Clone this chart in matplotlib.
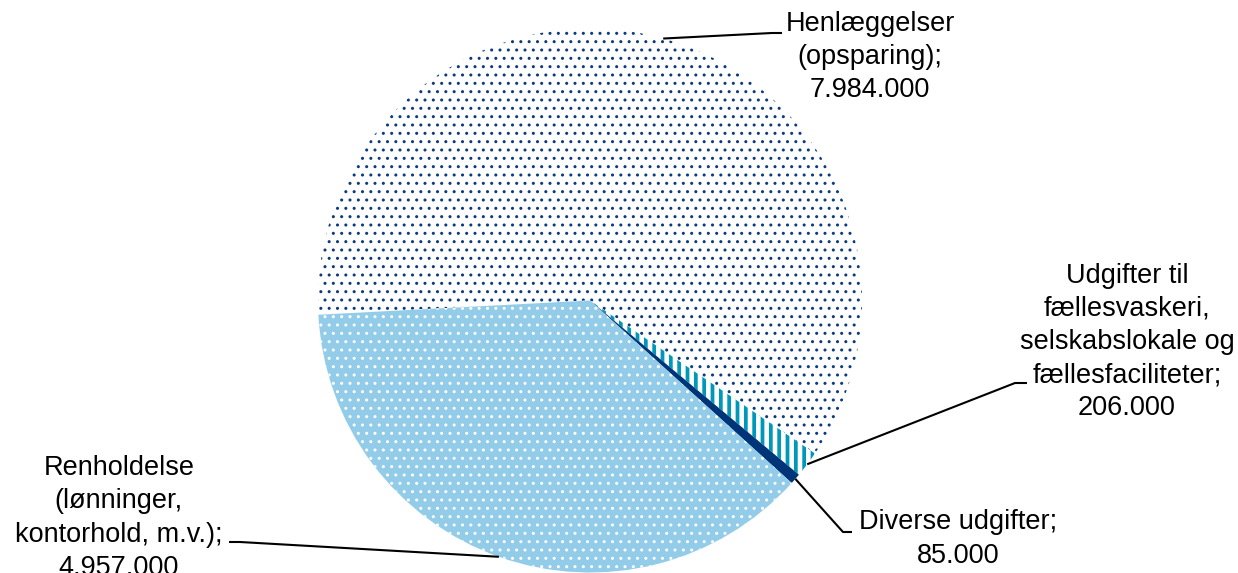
import matplotlib.pyplot as plt
import numpy as np

plt.rcParams['font.family'] = ['Liberation Sans', 'DejaVu Sans']

# Budgetposter og beløb (kr.)
navne = ['Henlæggelser\n(opsparing)',
         'Udgifter til\nfællesvaskeri,\nselskabslokale og\nfællesfaciliteter',
         'Diverse udgifter',
         'Renholdelse\n(lønninger,\nkontorhold, m.v.)']
beloeb = [7984000, 206000, 85000, 4957000]

# udseende for hvert stykke: (fyldfarve, mønsterfarve, mønster)
fyld = ['white', 'white', '#003478', '#93cce8']
moenster_farve = ['#0b3a7e', '#0098b9', '#003478', 'white']
moenster = ['..', '||', None, '..']

# placering af etiketter og knæk på hjælpelinjer (pixel-koordinater, y opad)
tekst_pos = [(870, 516), (1127, 231), (958, 34), (119, 55)]
knaek = [[(772, 540), (782, 540)],
         [(1015, 190), (1027, 190)],
         [(843, 41), (852, 41)],
         [(240, 31), (229, 31)]]

centrum = (590, 272.5)
radius = 272

fig = plt.figure(figsize=(12.38, 5.73), dpi=100)
ax = fig.add_axes([0, 0, 1, 1])

wedges, _ = ax.pie(beloeb, startangle=183, counterclock=False,
                   center=centrum, radius=radius,
                   wedgeprops=dict(linewidth=0))

for w, fc, hc, h in zip(wedges, fyld, moenster_farve, moenster):
    w.set_facecolor(fc)
    w.set_edgecolor(hc)
    w.set_linewidth(0)
    if h:
        w.set_hatch(h)
        if hasattr(w, 'set_hatch_linewidth'):
            w.set_hatch_linewidth(2.7 if h == '||' else 1.0)

def tal(v):
    return f'{v:,}'.replace(',', '.')

for w, navn, v, pos, kn in zip(wedges, navne, beloeb, tekst_pos, knaek):
    vinkel = np.deg2rad((w.theta1 + w.theta2) / 2)
    start = (centrum[0] + radius * np.cos(vinkel),
             centrum[1] + radius * np.sin(vinkel))
    xs = [start[0]] + [p[0] for p in kn]
    ys = [start[1]] + [p[1] for p in kn]
    ax.plot(xs, ys, color='black', linewidth=1.5, solid_capstyle='butt')
    ax.text(pos[0], pos[1], navn + ';\n' + tal(v), ha='center', va='center',
            multialignment='center', fontsize=19.5, linespacing=1.36)

ax.set_xlim(0, 1238)
ax.set_ylim(0, 573)
ax.set_axis_off()

fig.savefig('out.png', dpi=100)
